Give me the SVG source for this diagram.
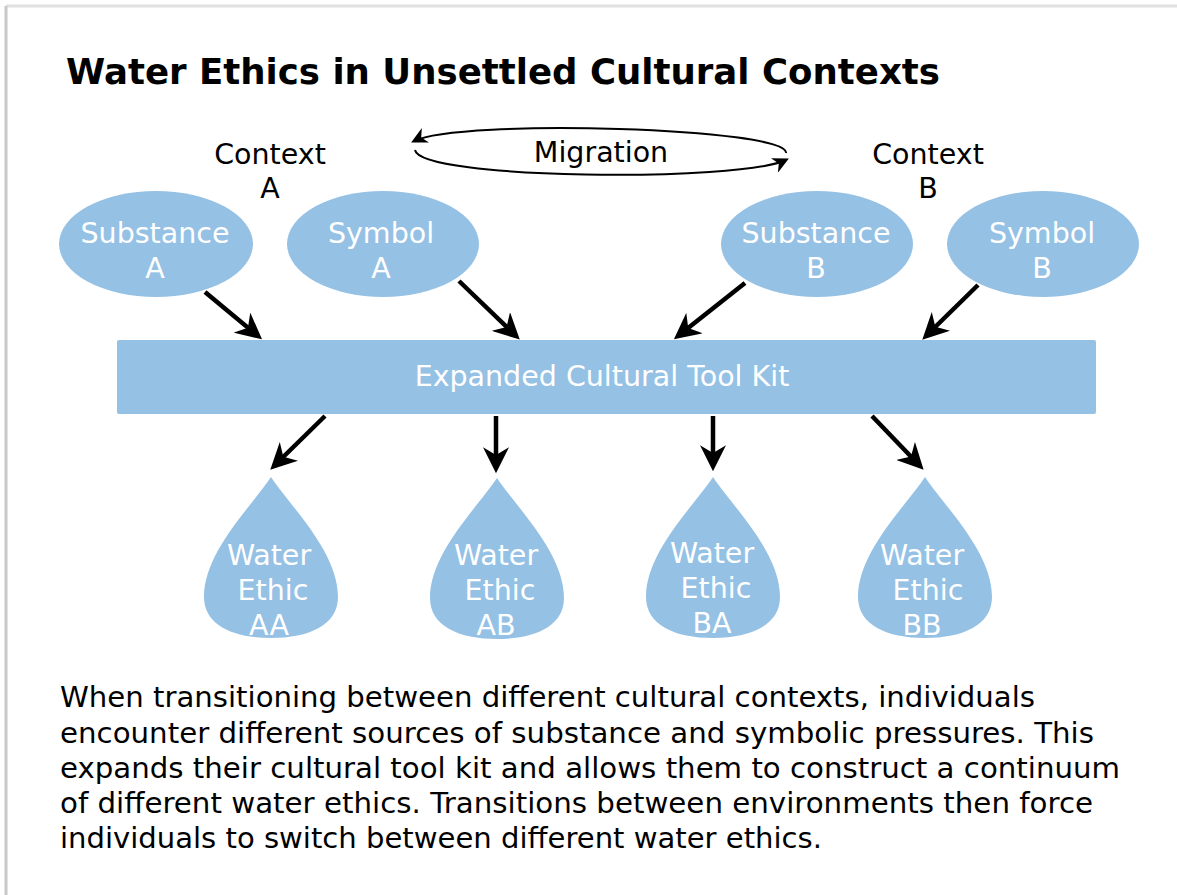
<svg xmlns="http://www.w3.org/2000/svg" width="1177" height="895" viewBox="0 0 1177 895">
<defs>
<style>
.shape{fill:#95C1E5;}
.wt{fill:#ffffff;font-family:"DejaVu Sans",Verdana,sans-serif;font-size:28.5px;text-anchor:middle;}
.bt{fill:#000000;font-family:"DejaVu Sans",Verdana,sans-serif;font-size:28.5px;}
.cap{fill:#000000;font-family:"DejaVu Sans",Verdana,sans-serif;font-size:28px;}
.conn{stroke:#000;stroke-width:4.5;fill:none;marker-end:url(#ah);}
.mig{stroke:#000;stroke-width:2;fill:none;marker-end:url(#ahs);}
</style>
<marker id="ah" viewBox="0 0 10 10" refX="8" refY="5" markerWidth="5.8" markerHeight="5.8" orient="auto" markerUnits="strokeWidth">
<path d="M0,0 L10,5 L0,10 L3,5 Z" fill="#000"/>
</marker>
<marker id="ahs" viewBox="0 0 10 10" refX="8" refY="5" markerWidth="8" markerHeight="8" orient="auto" markerUnits="strokeWidth">
<path d="M0,0 L10,5 L0,10 L3,5 Z" fill="#000"/>
</marker>
<path id="drop" d="M0,0 C20,30 67,75 67,120 C67,148 38,161 0,161 C-38,161 -67,148 -67,120 C-67,75 -20,30 0,0 Z"/>
</defs>
<rect x="0" y="0" width="1177" height="895" fill="#ffffff"/>
<line x1="6" y1="6" x2="1177" y2="6" stroke="#e0e0e0" stroke-width="3"/>
<line x1="6" y1="6" x2="6" y2="895" stroke="#c8c8c8" stroke-width="3"/>

<g id="title">
<text x="66" y="84" font-family="DejaVu Sans,Verdana,sans-serif" font-weight="bold" font-size="35" fill="#000" textLength="874" lengthAdjust="spacingAndGlyphs">Water Ethics in Unsettled Cultural Contexts</text>
</g>

<g id="contextA">
<text class="bt" x="270" y="164" text-anchor="middle">Context</text>
<text class="bt" x="270" y="198" text-anchor="middle">A</text>
</g>
<g id="contextB">
<text class="bt" x="928" y="164" text-anchor="middle">Context</text>
<text class="bt" x="928" y="198" text-anchor="middle">B</text>
</g>
<g id="migration">
<text class="bt" x="601" y="162" text-anchor="middle">Migration</text>
</g>

<g id="substanceA">
<ellipse class="shape" cx="156" cy="244" rx="97" ry="53"/>
<text class="wt" x="155" y="243">Substance</text>
<text class="wt" x="155" y="278">A</text>
</g>
<g id="symbolA">
<ellipse class="shape" cx="383" cy="244" rx="96" ry="53"/>
<text class="wt" x="381" y="243">Symbol</text>
<text class="wt" x="381" y="278">A</text>
</g>
<g id="substanceB">
<ellipse class="shape" cx="817" cy="244" rx="96" ry="53"/>
<text class="wt" x="816" y="243">Substance</text>
<text class="wt" x="816" y="278">B</text>
</g>
<g id="symbolB">
<ellipse class="shape" cx="1043" cy="244" rx="96" ry="53"/>
<text class="wt" x="1042" y="243">Symbol</text>
<text class="wt" x="1042" y="278">B</text>
</g>

<g id="toolkit">
<rect class="shape" x="117" y="340" width="979" height="74" rx="2"/>
<text class="wt" x="602" y="386">Expanded Cultural Tool Kit</text>
</g>

<g id="ethicAA">
<use href="#drop" class="shape" x="271" y="477"/>
<text class="wt" x="269" y="565">Water</text>
<text class="wt" x="273" y="600">Ethic</text>
<text class="wt" x="269" y="635">AA</text>
</g>
<g id="ethicAB">
<use href="#drop" class="shape" x="497" y="478"/>
<text class="wt" x="496" y="565">Water</text>
<text class="wt" x="500" y="600">Ethic</text>
<text class="wt" x="496" y="635">AB</text>
</g>
<g id="ethicBA">
<use href="#drop" class="shape" x="713" y="477"/>
<text class="wt" x="712" y="563">Water</text>
<text class="wt" x="716" y="598">Ethic</text>
<text class="wt" x="712" y="633">BA</text>
</g>
<g id="ethicBB">
<use href="#drop" class="shape" x="925" y="477"/>
<text class="wt" x="922" y="565">Water</text>
<text class="wt" x="928" y="600">Ethic</text>
<text class="wt" x="922" y="635">BB</text>
</g>

<g id="connectors">
<path class="mig" d="M786,153 C790,128 460,118 414,141"/>
<path class="mig" d="M415,150 C420,180 740,182 786,160"/>
<path class="conn" d="M205,292 L258,336"/>
<path class="conn" d="M459,281 L516,336"/>
<path class="conn" d="M745,283 L678,336"/>
<path class="conn" d="M978,285 L926,336"/>
<path class="conn" d="M325,416 L274,466"/>
<path class="conn" d="M496,416 L496,468"/>
<path class="conn" d="M713,416 L713,466"/>
<path class="conn" d="M872,416 L920,466"/>
</g>

<g id="caption">
<text class="cap" x="60" y="707" textLength="975" lengthAdjust="spacingAndGlyphs">When transitioning between different cultural contexts, individuals</text>
<text class="cap" x="60" y="743" textLength="1034" lengthAdjust="spacingAndGlyphs">encounter different sources of substance and symbolic pressures. This</text>
<text class="cap" x="60" y="778" textLength="1060" lengthAdjust="spacingAndGlyphs">expands their cultural tool kit and allows them to construct a continuum</text>
<text class="cap" x="60" y="813" textLength="1033" lengthAdjust="spacingAndGlyphs">of different water ethics. Transitions between environments then force</text>
<text class="cap" x="60" y="848" textLength="762" lengthAdjust="spacingAndGlyphs">individuals to switch between different water ethics.</text>
</g>
</svg>
